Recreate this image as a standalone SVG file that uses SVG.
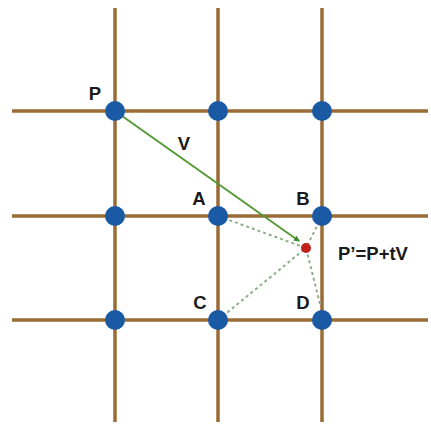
<svg xmlns="http://www.w3.org/2000/svg" width="431" height="427" viewBox="0 0 431 427">
<style>
.grid{stroke:#9a6b35;stroke-width:3.5;fill:none}
.node{fill:#1a5aa5}
.lbl{font-family:"Liberation Sans",Arial,sans-serif;font-weight:bold;font-size:18.5px;fill:#1a1a1a;text-anchor:middle}
.dot{stroke:#8fae8a;stroke-width:2;stroke-dasharray:3 3;fill:none}
</style>
<defs>
<marker id="ah" markerWidth="6" markerHeight="6" refX="5" refY="3" orient="auto" markerUnits="userSpaceOnUse">
<path d="M0,0 L6,3 L0,6 z" fill="#3f8a2a"/>
</marker>
</defs>
<g id="grid">
<line class="grid" x1="115" y1="8" x2="115" y2="422"/>
<line class="grid" x1="218" y1="8" x2="218" y2="422"/>
<line class="grid" x1="322" y1="8" x2="322" y2="422"/>
<line class="grid" x1="12" y1="111" x2="428" y2="111"/>
<line class="grid" x1="12" y1="216" x2="428" y2="216"/>
<line class="grid" x1="12" y1="320" x2="428" y2="320"/>
</g>
<g id="connectors">
<line class="dot" x1="218" y1="216" x2="306" y2="248"/>
<line class="dot" x1="322" y1="216" x2="306" y2="248"/>
<line class="dot" x1="218" y1="320" x2="306" y2="248"/>
<line class="dot" x1="320" y1="304" x2="306" y2="248"/>
<line x1="115" y1="111" x2="299" y2="241" stroke="#559a35" stroke-width="2" marker-end="url(#ah)"/>
</g>
<g id="n-P"><circle class="node" cx="115" cy="111" r="10"/><text class="lbl" x="95" y="100">P</text></g>
<g id="n-12"><circle class="node" cx="218" cy="111" r="10"/></g>
<g id="n-13"><circle class="node" cx="322" cy="111" r="10"/></g>
<g id="n-21"><circle class="node" cx="115" cy="216" r="10"/></g>
<g id="n-A"><circle class="node" cx="218" cy="216" r="10"/><text class="lbl" x="199" y="205">A</text></g>
<g id="n-B"><circle class="node" cx="322" cy="216" r="10"/><text class="lbl" x="303" y="205">B</text></g>
<g id="n-31"><circle class="node" cx="115" cy="320" r="10"/></g>
<g id="n-C"><circle class="node" cx="218" cy="320" r="10"/><text class="lbl" x="200" y="309">C</text></g>
<g id="n-D"><circle class="node" cx="322" cy="320" r="10"/><text class="lbl" x="303" y="309">D</text></g>
<g id="n-Pp"><circle cx="306" cy="248" r="5" fill="#c0221a"/><text class="lbl" x="373" y="260">P’=P+tV</text></g>
<g id="lbl-V"><text class="lbl" x="184" y="150">V</text></g>
</svg>
